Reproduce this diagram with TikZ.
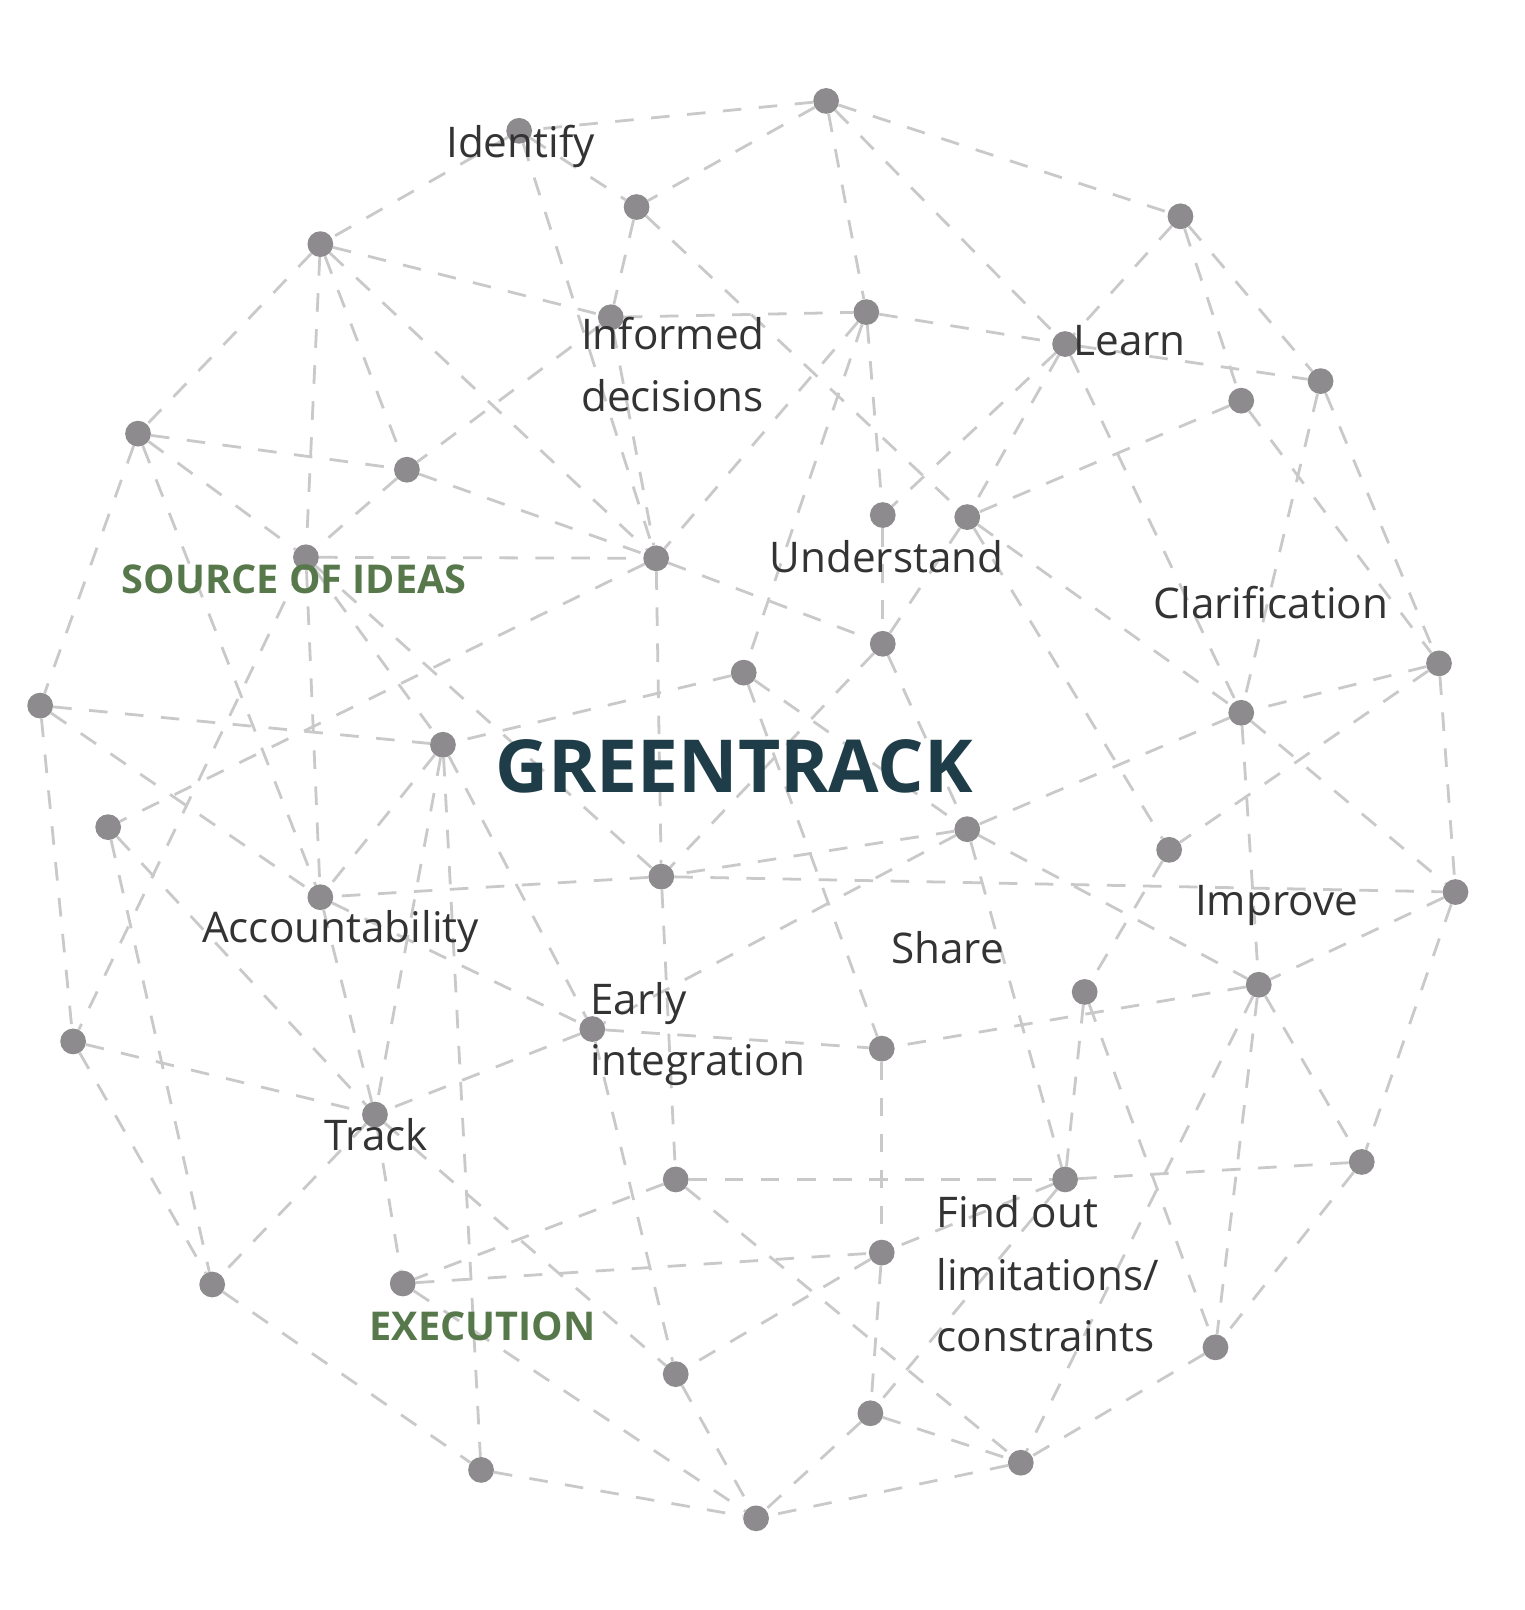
\documentclass[tikz,border=0pt]{standalone}
\usepackage{fontspec}
\setmainfont{Open Sans}
\usetikzlibrary{backgrounds}
\definecolor{edgegray}{HTML}{C9C9C9}
\definecolor{dotgray}{HTML}{8D8B8D}
\definecolor{labeltext}{HTML}{333333}
\definecolor{titleteal}{HTML}{1E3D49}
\definecolor{groupgreen}{HTML}{56784A}
\tikzset{
  dot/.style={circle, fill=dotgray, minimum size=25pt, inner sep=0pt},
  link/.style={draw=edgegray, line width=2.7pt, dash pattern=on 18pt off 17pt},
  lbl/.style={anchor=base west, inner sep=0pt, text=labeltext, font=\fontsize{41}{49}\selectfont},
  grp/.style={anchor=base west, inner sep=0pt, text=groupgreen, font=\bfseries\fontsize{38.5}{46}\selectfont},
  ttl/.style={anchor=base west, inner sep=0pt, text=titleteal, font=\bfseries\fontsize{71}{84}\selectfont},
}
\begin{document}
\begin{tikzpicture}[x=1pt,y=-1pt]
\useasboundingbox (0,0) rectangle (1480,1563);
% dots
\foreach \n/\px/\py in {1/802/98, 2/504/127, 3/618/201, 4/1146/210, 5/311/237, 6/593/308,
  7/841/303, 8/1034/334, 9/1282/370, 10/1205/389, 11/134/421, 12/395/456, 13/857/500,
  14/939/502, 15/297/541, 16/637/542, 17/857/625, 18/1397/644, 19/722/653, 20/39/685,
  21/1205/692, 22/430/723, 23/105/803, 24/939/805, 25/1135/825, 26/642/851, 27/311/871,
  28/1413/866, 29/1222/956, 30/1053/963, 31/71/1011, 32/575/999, 33/856/1018, 34/364/1082,
  35/656/1145, 36/1034/1145, 37/1322/1128, 38/206/1247, 39/391/1246, 40/856/1216,
  41/1180/1308, 42/656/1334, 43/845/1372, 44/991/1420, 45/467/1427, 46/734/1474}
  \node[dot] (n\n) at (\px,\py) {};
% connectors
\begin{scope}[on background layer]
\fill[white] (0,0) rectangle (1480,1563);
\foreach \a/\b in {1/2, 1/3, 1/4, 1/7, 1/8,
  2/3, 2/5, 2/16,
  3/6, 3/14,
  4/8, 4/9, 4/10,
  5/6, 5/11, 5/12, 5/15, 5/16,
  6/7, 6/12, 6/16,
  7/8, 7/13, 7/16, 7/19,
  8/9, 8/13, 8/14, 8/21,
  9/18, 9/21,
  10/14, 10/18,
  11/12, 11/15, 11/20, 11/27,
  12/15, 12/16,
  13/17,
  14/17, 14/21, 14/25,
  15/16, 15/22, 15/26, 15/27, 15/31,
  16/17, 16/23, 16/26,
  17/24, 17/26,
  18/21, 18/25, 18/28,
  19/22, 19/24, 19/33,
  20/22, 20/27, 20/31,
  21/24, 21/28, 21/29,
  22/27, 22/32, 22/34, 22/45,
  23/34, 23/38,
  24/26, 24/29, 24/32, 24/36,
  25/30,
  26/27, 26/28, 26/35,
  27/32, 27/34,
  28/29, 28/37,
  29/33, 29/37, 29/41, 29/44,
  30/36, 30/41,
  31/34, 31/38,
  32/33, 32/34, 32/42,
  33/40,
  34/38, 34/39, 34/42,
  35/36, 35/39, 35/44,
  36/37, 36/40, 36/43,
  37/41,
  38/45,
  39/40, 39/46,
  40/42, 40/43,
  41/44,
  42/46,
  43/44, 43/46,
  44/46,
  45/46}
  \draw[link] (n\a) -- (n\b);
\end{scope}
% labels
\node[lbl] (tIdentify) at (433,152.6) {Identify};
\node[lbl] (tInformedA) at (564,339) {Informed};
\node[lbl] (tInformedB) at (564,399) {decisions};
\node[lbl] (tLearn) at (1042,345) {Learn};
\node[lbl] (tUnderstand) at (747,555.5) {Understand};
\node[lbl] (tClarification) at (1120,600.6) {Clarification};
\node[lbl] (tImprove) at (1160,889) {Improve};
\node[lbl] (tShare) at (865,935) {Share};
\node[lbl] (tAccountability) at (196,915) {Accountability};
\node[lbl] (tEarlyA) at (573,984.4) {Early};
\node[lbl] (tEarlyB) at (573,1044.5) {integration};
\node[lbl] (tTrack) at (315,1117) {Track};
\node[lbl] (tFindA) at (909,1192) {Find out};
\node[lbl] (tFindB) at (909,1253) {limitations/};
\node[lbl] (tFindC) at (909,1312.5) {constraints};
\node[grp] (tSource) at (118,576.3) {SOURCE OF IDEAS};
\node[grp] (tExecution) at (358.5,1301.5) {EXECUTION};
\node[ttl] (tTitle) at (481,769.5) {GREENTRACK};
\end{tikzpicture}
\end{document}
